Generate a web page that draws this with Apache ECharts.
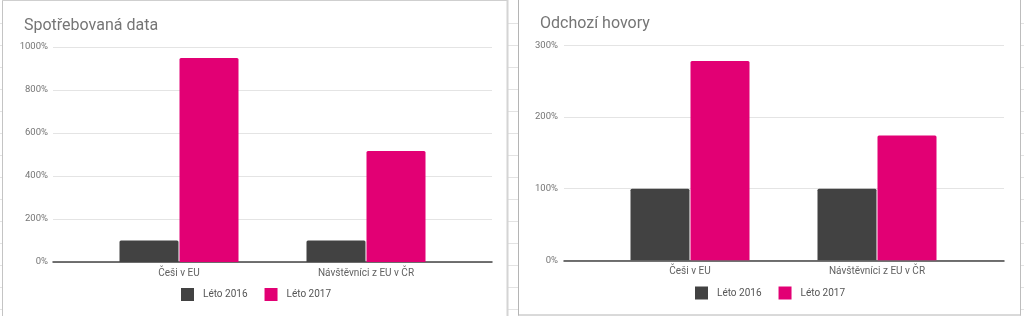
<!DOCTYPE html>
<html><head><meta charset="utf-8">
<script src="https://cdn.jsdelivr.net/npm/echarts@6/dist/echarts.min.js"></script>
<style>html,body{margin:0;padding:0;background:#fff}#c{width:1024px;height:316px}</style>
</head><body><div id="c"></div>
<script>
const categories = ['Češi v EU', 'Návštěvníci z EU v ČR'];
const seriesNames = ['Léto 2016', 'Léto 2017'];
const dataLeto2016 = [100, 100];
const dataLeto2017 = [949, 516];
const callsLeto2016 = [100, 100];
const callsLeto2017 = [278, 174];
const titles = ['Spotřebovaná data', 'Odchozí hovory'];
const dataAxisMax = 1000, dataAxisStep = 200;
const callsAxisMax = 300, callsAxisStep = 100;

const colors = ['#424242', '#e20074'];
const font = 'Roboto, "Noto Sans", sans-serif';
const chart = echarts.init(document.getElementById('c'), null, {renderer: 'canvas'});

// decorative spreadsheet background and panel frames
const deco = [];
for (let y = 23; y < 316; y += 22) {
  [[0, 2], [508, 518], [1021, 1024]].forEach(([a, b]) => deco.push({
    type: 'line', silent: true, shape: {x1: a, y1: y + 0.5, x2: b, y2: y + 0.5},
    style: {stroke: '#e3e3e3', lineWidth: 1}
  }));
}
function ln(x1, y1, x2, y2, c, w) {
  deco.push({type: 'line', silent: true, shape: {x1, y1, x2, y2}, style: {stroke: c, lineWidth: w || 1}});
}
ln(2.5, 0, 2.5, 316, '#c4c4c4');
ln(2, 0.5, 508, 0.5, '#cfcfcf');
ln(507.5, 0, 507.5, 316, '#d4d4d4', 2);
ln(518.5, 0, 518.5, 315.5, '#b4b4b4');
ln(518, 315, 1021, 315, '#b4b4b4');
ln(1020.5, 0, 1020.5, 315.5, '#bdbdbd');

const grids = [
  {left: 53, top: 47, width: 439, height: 215},
  {left: 85.5, top: 47, width: 374, height: 215},
  {left: 564, top: 45.3, width: 440, height: 215},
  {left: 596.5, top: 45.3, width: 374, height: 215}
];

function bgX(i) {
  return {type: 'category', gridIndex: i, data: categories,
    axisLine: {show: true, lineStyle: {color: '#444', width: 1.5}},
    axisTick: {show: false}, axisLabel: {show: false}, splitLine: {show: false}};
}
function barX(i) {
  return {type: 'category', gridIndex: i, data: categories,
    axisLine: {show: false}, axisTick: {show: false},
    axisLabel: {color: '#616161', fontSize: 10, fontFamily: font, margin: 6}};
}
function bgY(i, max, step, margin) {
  return {type: 'value', gridIndex: i, min: 0, max: max, interval: step,
    axisLine: {show: false}, axisTick: {show: false},
    axisLabel: {formatter: v => String(v) + '%', color: '#757575', fontSize: 9.5, fontFamily: font, margin: margin},
    splitLine: {lineStyle: {color: '#e4e4e4', width: 1}}};
}
function barY(i, max, step) {
  return {type: 'value', gridIndex: i, min: 0, max: max, interval: step, show: false,
    splitLine: {show: false}};
}
function bars(name, data, axis, ci) {
  return {name: name, type: 'bar', xAxisIndex: axis, yAxisIndex: axis, data: data,
    barWidth: 59, barGap: '1.7%', z: 1,
    itemStyle: {color: colors[ci], borderRadius: [1.5, 1.5, 0, 0]}};
}
function legend(left, top) {
  return {left: left, top: top, data: seriesNames, icon: 'rect', itemWidth: 13, itemHeight: 13,
    itemGap: 17, selectedMode: false, padding: 0,
    textStyle: {color: '#555', fontSize: 10, fontFamily: font, padding: [0, 0, 0, 4]}};
}

chart.setOption({
  animation: false,
  color: colors,
  title: [
    {text: titles[0], left: 19, top: 13, textStyle: {color: '#757575', fontSize: 16, fontWeight: 'normal', fontFamily: font}},
    {text: titles[1], left: 535, top: 11, textStyle: {color: '#757575', fontSize: 16, fontWeight: 'normal', fontFamily: font}}
  ],
  legend: [legend(181, 288), legend(695, 286.5)],
  grid: grids,
  xAxis: [bgX(0), barX(1), bgX(2), barX(3)],
  yAxis: [bgY(0, dataAxisMax, dataAxisStep, 5), barY(1, dataAxisMax, dataAxisStep),
          bgY(2, callsAxisMax, callsAxisStep, 6), barY(3, callsAxisMax, callsAxisStep)],
  series: [
    bars(seriesNames[0], dataLeto2016, 1, 0),
    bars(seriesNames[1], dataLeto2017, 1, 1),
    bars(seriesNames[0], callsLeto2016, 3, 0),
    bars(seriesNames[1], callsLeto2017, 3, 1)
  ],
  graphic: deco
});
</script></body></html>
